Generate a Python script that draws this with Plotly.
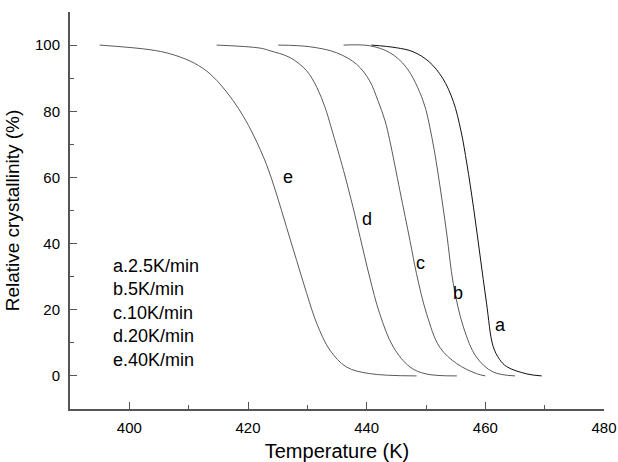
import plotly.graph_objects as go

T_a = [440.8, 445.0, 447.8, 450.5, 452.8, 454.6, 455.9, 456.9, 458.0, 459.1, 460.2, 461.3, 462.4, 463.6, 467.0, 469.5]
X_a = [100.0, 99.2, 98.0, 95.0, 90.0, 83.0, 74.0, 64.0, 51.0, 36.5, 22.0, 9.0, 5.0, 2.8, 0.6, 0.0]

T_b = [436.1, 440.5, 443.9, 446.7, 449.5, 451.0, 452.3, 453.5, 454.6, 456.3, 458.5, 461.3, 465.0]
X_b = [100.0, 99.8, 97.7, 93.2, 83.2, 72.0, 58.0, 42.9, 27.9, 14.8, 5.7, 1.2, 0.0]

T_c = [425.1, 430.4, 434.9, 438.3, 440.5, 441.9, 443.1, 443.9, 445.6, 447.3, 448.4, 450.1, 452.3, 455.2, 458.5, 460.0]
X_c = [100.0, 99.5, 97.7, 94.2, 89.2, 83.2, 77.1, 71.1, 56.0, 40.9, 30.9, 18.8, 8.7, 3.7, 0.7, 0.0]

T_d = [414.7, 422.0, 423.7, 427.1, 429.9, 431.6, 433.0, 434.1, 436.1, 437.7, 438.9, 440.5, 442.2, 444.5, 447.3, 450.0, 455.2]
X_d = [100.0, 99.1, 98.3, 96.2, 92.2, 87.2, 81.1, 74.6, 62.1, 51.0, 41.9, 29.9, 18.8, 8.7, 2.7, 0.6, 0.0]

T_e = [395.0, 403.5, 406.8, 410.2, 413.0, 415.3, 417.5, 419.2, 421.0, 423.1, 424.8, 426.5, 428.2, 429.9, 431.6, 433.8, 436.6, 440.5, 448.4]
X_e = [100.0, 98.6, 97.4, 95.2, 92.2, 88.2, 83.2, 78.5, 72.5, 64.0, 55.0, 44.9, 34.9, 24.9, 15.8, 7.8, 2.7, 0.7, 0.0]

curve_names = ["a", "b", "c", "d", "e"]
curve_T = [T_a, T_b, T_c, T_d, T_e]
curve_X = [X_a, X_b, X_c, X_d, X_e]
curve_colors = ["#111111", "#5a5a5a", "#5a5a5a", "#5a5a5a", "#5a5a5a"]

# curve letter label positions (data coords)
label_T = [462.6, 455.4, 449.0, 440.0, 426.7]
label_X = [15.3, 25.0, 34.0, 47.5, 60.2]

legend_lines = ["a.2.5K/min", "b.5K/min", "c.10K/min", "d.20K/min", "e.40K/min"]

x_ticks = [400, 420, 440, 460, 480]
y_ticks = [0, 20, 40, 60, 80, 100]

FONT = "Liberation Sans, Arial, sans-serif"

fig = go.Figure()
for name, T, X, col in zip(curve_names, curve_T, curve_X, curve_colors):
    fig.add_trace(go.Scatter(x=T, y=X, mode="lines", name=name,
                             line=dict(color=col, width=1, shape="spline", smoothing=1.0),
                             showlegend=False, hoverinfo="skip"))

for name, lt, lx in zip(curve_names, label_T, label_X):
    fig.add_annotation(x=lt, y=lx, text=name, showarrow=False,
                       font=dict(size=18, color="black", family=FONT))

fig.add_annotation(x=396.9, y=37.0, xanchor="left", yanchor="top",
                   text="<br>".join(legend_lines), showarrow=False, align="left",
                   font=dict(size=18, color="black", family=FONT))

axis_common = dict(showline=True, linecolor="#555555", linewidth=2, ticks="inside",
                   tickcolor="#555555", tickwidth=1.3, ticklen=7, showgrid=False, zeroline=False,
                   automargin=False,
                   tickfont=dict(size=15, color="black", family=FONT),
                   minor=dict(ticks="inside", ticklen=4, tickcolor="#555555", tickwidth=1.3, showgrid=False))

fig.update_xaxes(range=[390, 480], tickvals=x_ticks, ticklabelstandoff=4,
                 title=dict(text="Temperature (K)", font=dict(size=20, color="black", family=FONT), standoff=10),
                 minor_dtick=10, **axis_common)
fig.update_yaxes(range=[-10, 110], tickvals=y_ticks, ticklabelstandoff=5,
                 title=dict(text="Relative crystallinity (%)", font=dict(size=19, color="black", family=FONT), standoff=10),
                 minor_dtick=10, **axis_common)

fig.update_layout(width=618, height=462, margin=dict(l=70, r=14, t=12, b=53),
                  plot_bgcolor="white", paper_bgcolor="white")

fig.write_html("out.html")
